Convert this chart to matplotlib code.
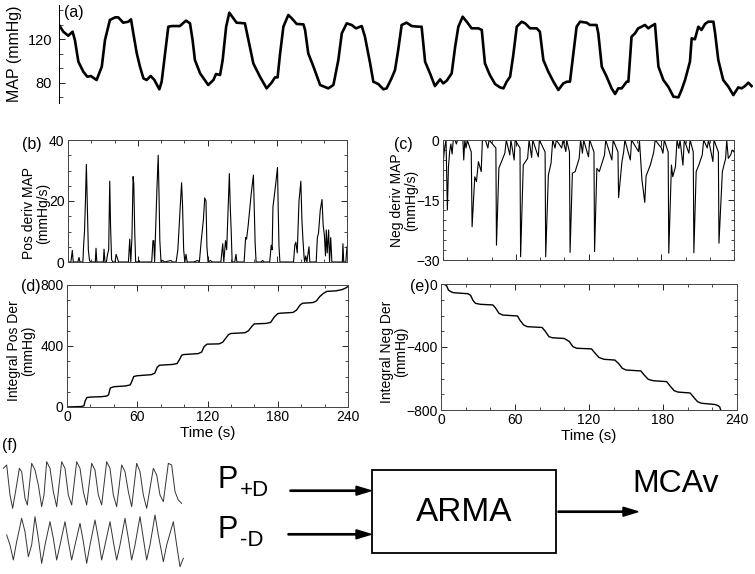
import matplotlib as mpl
import matplotlib.pyplot as plt
from matplotlib.ticker import MultipleLocator
from matplotlib.patches import Rectangle, FancyArrow

mpl.rcParams['font.family'] = ['Liberation Sans', 'DejaVu Sans']
mpl.rcParams['font.size'] = 10

W, H = 755, 574

# ---- (a) mean arterial pressure, time (s) / mmHg ----
map_t = [0, 1.5, 3.2, 4.7, 5.5, 6.7, 8.4, 9.8, 11.0, 13.0, 14.8, 15.9, 17.6, 19.4, 20.5,
         22.2, 24.0, 24.9, 25.7, 26.9, 28.0, 29.2, 30.3, 31.7, 33.0, 34.7, 35.5, 36.7,
         37.8, 39.0, 41.8, 43.9, 45.3, 46.2, 47.0, 48.8, 51.6, 53.4, 54.3, 55.7, 56.6,
         57.8, 58.9, 60.3, 61.4, 64.3, 65.5, 67.2, 69.5, 71.8, 73.5, 74.7, 75.6, 76.4,
         77.6, 79.3, 80.5, 82.2, 84.5, 85.1, 86.2, 88.0, 90.3, 93.1, 94.9, 96.6, 97.8,
         99.5, 101.2, 102.7, 104.7, 105.8, 107.6, 108.7, 110.4, 112.2, 113.3, 115.0,
         116.2, 117.3, 118.5, 120.2, 122.0, 124.3, 125.4, 126.6, 128.3, 130.0, 131.8,
         132.9, 134.1, 135.8, 137.0, 138.1, 139.6, 141.0, 142.7, 145.0, 146.2, 147.3,
         149.0, 150.8, 152.5, 153.7, 154.8, 156.0, 157.1, 158.3, 160.0, 161.2, 162.9,
         165.2, 166.3, 167.5, 169.2, 171.0, 172.7, 174.4, 175.6, 176.7, 177.9, 179.0,
         180.2, 182.5, 183.6, 185.9, 186.5, 187.7, 189.4, 191.1, 192.3, 193.4, 194.6,
         196.3, 196.9, 198.0, 199.2, 200.3, 201.5, 202.6, 203.8, 204.9, 206.1, 207.3,
         209.0, 210.7, 212.5, 214.2, 215.3, 216.5, 218.2, 218.8, 219.9, 221.1, 222.2,
         223.4, 224.5, 226.3, 226.9, 228.0, 229.7, 231.5, 233.2, 234.9, 236.1, 237.2,
         238.4, 239.5]
map_v = [133.2, 127.0, 123.3, 127.0, 119.3, 99.4, 90.2, 85.5, 86.2, 82.5, 94.8, 119.3,
         137.8, 140.2, 140.2, 135.3, 136.2, 138.4, 125.5, 107.0, 94.8, 84.0, 82.5, 86.2,
         82.5, 73.9, 80.9, 107.0, 131.6, 132.2, 132.2, 137.2, 134.7, 119.3, 100.9, 88.6,
         77.9, 82.5, 88.0, 87.1, 100.9, 131.6, 144.5, 139.3, 135.3, 134.7, 119.3, 97.8,
         85.5, 74.8, 80.0, 84.9, 84.9, 105.5, 131.6, 142.4, 139.3, 134.1, 133.8, 128.6,
         107.0, 94.8, 77.9, 74.8, 77.9, 100.9, 125.5, 134.7, 133.2, 130.1, 132.2, 122.4,
         97.8, 80.9, 78.8, 73.9, 74.8, 84.0, 91.7, 110.1, 133.2, 135.3, 132.2, 131.6,
         131.6, 99.4, 88.6, 76.9, 83.1, 79.4, 81.9, 88.6, 113.2, 131.6, 140.8, 136.2,
         130.1, 130.1, 128.6, 97.8, 87.1, 78.8, 75.7, 74.8, 80.9, 85.5, 105.5, 131.6,
         136.2, 134.7, 130.1, 130.1, 127.0, 100.9, 90.2, 80.9, 73.3, 79.4, 80.9, 80.9,
         107.0, 131.6, 136.2, 135.3, 133.2, 133.2, 125.5, 94.8, 85.5, 74.8, 69.6, 74.8,
         74.8, 80.9, 80.9, 122.4, 125.5, 130.1, 131.6, 133.2, 130.1, 132.2, 134.1, 94.8,
         82.5, 76.3, 67.1, 66.5, 73.3, 82.5, 99.4, 120.9, 120.0, 131.6, 128.6, 134.1,
         136.2, 136.2, 125.5, 100.9, 82.5, 76.3, 68.6, 75.7, 74.8, 76.9, 80.0, 76.9]

# ---- (b) positive derivative of MAP, mmHg/s ----
pos_t = [0, 2.5, 3.7, 4.5, 8.5, 9.5, 10.3, 12.8, 13.5, 14.2, 15.0, 15.8, 16.5, 17.5, 18.5,
         19.5, 23.5, 24.1, 24.8, 30.4, 31.0, 31.8, 33.0, 34.0, 35.0, 35.9, 36.6, 37.5,
         38.5, 40.5, 41.4, 42.3, 43.5, 52.0, 53.1, 54.0, 55.0, 56.0, 56.6, 57.4, 58.2,
         60.0, 61.0, 62.0, 72.0, 73.1, 73.8, 74.5, 76.5, 77.6, 78.3, 79.0, 80.0, 81.5,
         83.0, 88.5, 90.0, 93.0, 94.5, 96.5, 97.7, 98.5, 99.5, 100.5, 101.5, 102.5,
         108.0, 111.7, 113.0, 114.5, 116.5, 117.6, 118.7, 119.5, 120.5, 122.5, 124.0,
         131.5, 133.1, 134.0, 135.5, 136.5, 138.8, 139.5, 140.4, 141.2, 143.4, 144.5,
         145.3, 151.5, 152.8, 153.6, 155.0, 157.5, 159.5, 160.2, 161.0, 161.8, 166.0,
         167.5, 168.5, 173.5, 174.8, 175.6, 176.3, 178.5, 180.2, 180.8, 181.5, 182.3,
         194.0, 195.1, 196.0, 197.2, 198.7, 200.3, 201.2, 202.0, 203.0, 203.5, 204.5,
         205.5, 207.3, 208.0, 213.5, 214.5, 215.5, 217.0, 218.5, 219.5, 220.5, 221.5,
         222.2, 223.0, 224.2, 225.0, 226.0, 227.0, 231.5, 236.0, 236.5, 237.2, 239.0, 240.0]
pos_v = [0, 0, 3.8, 0, 0, 1.5, 0, 0, 6, 10, 20, 32, 20, 4, 0.5,
         0, 0, 4.5, 0, 0, 4.2, 0, 0, 2.5, 4, 26.5, 12, 0.8,
         0, 0, 2.5, 1.5, 0, 0, 7.5, 0, 8, 28, 25.5, 10, 0,
         0, 0.5, 0, 0, 7, 7, 0, 24, 35, 22, 7, 0, 0.5,
         0, 0.5, 0, 0, 4, 18, 26, 19, 4, 0, 2.5, 0,
         0, 0.5, 0, 6.5, 14, 21, 20, 5, 0, 0.5, 0,
         0, 6, 0, 7, 4, 29, 19, 10, 0, 0, 2.5,
         0, 0, 8, 7.5, 12, 22, 28.5, 18, 6, 0, 0,
         0.5, 0, 0, 5.5, 4, 18, 25, 31, 18, 5, 0,
         0, 5.5, 6.5, 3, 20, 26.5, 14, 8, 2, 0, 2,
         0, 5, 0, 0, 8, 9.5, 17, 20.5, 12, 9, 2,
         10.5, 3, 10.5, 0, 8, 0, 0, 0, 6, 0, 0, 5]

# ---- (c) negative derivative of MAP, mmHg/s ----
neg_t = [0, 1.3, 2.5, 3.6, 4.5, 5.5, 6.5, 7.5, 8.5, 10.0, 11.0, 12.0, 16.4, 17.1, 18.0,
         19.0, 20.0, 23.3, 24.0, 26.2, 27.6, 29.2, 31.5, 32.5, 35.0, 37.0, 38.0, 43.6,
         44.1, 46.1, 48.8, 51.0, 52.2, 55.1, 56.0, 58.7, 59.5, 63.5, 64.0, 66.2, 69.8,
         71.0, 73.1, 74.0, 78.6, 79.5, 84.2, 84.7, 86.9, 89.1, 90.5, 92.4, 93.5, 97.9,
         99.0, 101.3, 102.0, 104.3, 104.8, 106.7, 109.0, 112.3, 113.5, 115.0, 116.0,
         120.0, 121.0, 124.5, 125.0, 126.9, 128.9, 133.2, 134.2, 139.3, 140.3, 144.3,
         144.8, 147.6, 149.0, 150.0, 154.5, 155.5, 161.3, 162.0, 164.1, 166.4, 167.5,
         171.0, 173.8, 175.0, 180.1, 181.4, 182.5, 185.7, 186.2, 188.4, 189.5, 191.7,
         193.0, 194.5, 195.5, 197.9, 199.0, 202.8, 203.8, 206.4, 206.9, 208.8, 211.0,
         213.8, 215.0, 217.9, 219.0, 220.7, 222.6, 223.5, 227.1, 227.6, 230.4, 233.1,
         234.0, 235.3, 237.2, 238.5, 240.0]
neg_v = [-6.2, -2.0, 0, -17.5, -6.7, -2.9, -1, -3.5, 0, 0, -1, 0, 0, -5.0, 0,
         -2.0, 0, -3, -21.7, -9.2, -10.4, -5.4, -7.9, 0, 0, -2.0, 0, -2,
         -26.3, -7.0, -5.0, -3.3, 0, -3.75, 0, -5.0, 0, -2, -29.2, -6.25, -4.6,
         0, -4.4, 0, -4.2, 0, -3, -29.2, -8.75, -5.8, 0, -2.0, 0, -2.0,
         0, -2.9, 0, -3, -28.1, -8.3, -7.9, -4.6, 0, -3.3, 0,
         -4.2, 0, -3, -27.9, -7.1, -7.9, -3.75, 0, -5.0, 0, -3,
         -14.4, -5.4, -3, 0, -5.0, 0, -2.9, 0, -10.0, -15.6, -9,
         -6.25, -3, 0, -2.0, -3.3, 0, -3, -28.3, -6.25, -9.2, -6.7,
         0, -2.1, 0, -6.3, 0, -3.3, 0, -3, -28.2, -7.9, -6.25,
         -3.75, 0, -2.0, 0, -2.5, -5.4, 0, -3, -25.8, -7.9, -4.6,
         0, -4.6, -3.75, -2.5, -3]

# ---- (d) integral of positive derivative, mmHg ----
ipos_t = [0, 12, 14.5, 15.5, 17, 20, 30, 34, 35.5, 37, 40, 50, 54, 55.5, 57, 60, 72, 75,
          77, 79, 90, 94, 96, 98, 100, 112, 115, 117, 119.5, 130, 133, 135, 138, 140,
          152, 155, 158, 160, 170, 174, 177, 180, 182, 193, 196, 199, 201, 210, 213, 216,
          219, 222, 230, 235, 238, 240]
ipos_v = [0, 3, 8, 40, 62, 65, 68, 72, 80, 125, 133, 138, 145, 170, 200, 205, 212, 222,
          260, 274, 279, 285, 310, 340, 344, 350, 360, 395, 412, 414, 425, 445, 475, 482,
          487, 500, 530, 545, 548, 555, 590, 612, 615, 620, 635, 668, 680, 685, 695, 725,
          745, 758, 762, 770, 780, 790]

# ---- (e) integral of negative derivative, mmHg ----
ineg_t = [0, 3, 4.5, 6, 8, 10, 22, 24, 26, 28, 32, 42, 44, 47, 50, 62, 64, 67, 70, 82,
          84.5, 87.5, 90, 100, 104, 107, 110, 122, 125, 128, 132, 141, 144, 147, 150,
          162, 165, 168, 172, 183, 186, 189, 192, 202, 205, 208, 211, 222, 224, 226, 227.5]
ineg_v = [0, -3, -10, -38, -49, -55, -62, -72, -105, -123, -129, -133, -150, -186, -197,
          -203, -230, -260, -271, -276, -300, -334, -341, -346, -365, -398, -408, -412,
          -440, -466, -478, -483, -505, -535, -546, -552, -580, -605, -614, -620, -650,
          -677, -686, -692, -720, -747, -757, -765, -770, -780, -820]

# ---- (f) example input waveforms (arbitrary units) ----
wave1_t = [1.0, 2.0, 3.0, 3.8, 5.0, 5.8, 6.5, 7.5, 8.2, 9.5, 10.5, 11.5, 12.5, 13.2, 14.0,
           15.0, 16.0, 17.0, 18.5, 19.5, 20.5, 21.5, 23.0, 24.0, 25.0, 26.0, 27.5, 28.5,
           29.5, 30.5, 32.0, 33.0, 34.0, 35.0, 36.5, 37.5, 38.5, 39.5, 41.0, 42.0, 43.0,
           44.0, 46.0, 47.0, 48.0, 49.0, 50.5, 51.5, 52.5, 53.5, 54.5]
wave1_v = [65, 70, 25, 5, 40, 65, 60, 20, 10, 72.5, 62.5, 40, 7.5, 25, 75, 65, 30, 7.5,
           75, 65, 25, 10, 75, 65, 30, 10, 72.5, 62.5, 25, 10, 75, 65, 25, 7.5, 70, 60,
           30, 7.5, 72.5, 60, 25, 5, 65, 55, 25, 15, 72.5, 70, 30, 17.5, 12.5]
wave2_t = [2.0, 3.0, 4.0, 5.0, 6.5, 7.5, 8.5, 9.5, 10.5, 11.5, 12.5, 13.5, 15.0, 16.0,
           17.0, 18.0, 19.5, 20.5, 21.5, 22.5, 24.0, 25.0, 26.0, 27.0, 28.5, 29.5, 30.5,
           31.5, 33.0, 34.0, 35.0, 36.0, 37.5, 38.5, 39.5, 40.5, 42.0, 43.0, 44.0, 45.0,
           46.5, 47.5, 49.0, 50.0, 52.0, 53.0, 54.0, 55.0]
wave2_v = [65, 50, 27.5, 55, 90, 70, 32.5, 50, 92.5, 60, 22.5, 50, 85, 60, 27.5, 50, 85,
           55, 27.5, 50, 82.5, 55, 22.5, 50, 87.5, 60, 27.5, 50, 85, 55, 27.5, 50, 90,
           60, 27.5, 50, 92.5, 60, 27.5, 50, 95, 65, 25, 50, 85, 50, 17.5, 30]

time_ticks = [0, 60, 120, 180, 240]


def rect(l, t, r, b):
    # pixel box -> figure fraction
    return [l / W, 1 - b / H, (r - l) / W, (b - t) / H]


def fx(x):
    return x / W


def fy(y):
    return 1 - y / H


fig = plt.figure(figsize=(W / 100, H / 100), dpi=100)


def boxed(r, ylim, yticks, ylab, minor_y, xlabels):
    ax = fig.add_axes(rect(*r))
    ax.set_xlim(0, 240)
    ax.set_ylim(*ylim)
    ax.set_yticks(yticks)
    ax.yaxis.set_minor_locator(MultipleLocator(minor_y))
    ax.set_xticks(time_ticks)
    ax.xaxis.set_minor_locator(MultipleLocator(20))
    ax.tick_params(which='both', direction='in', top=True, right=True, labelsize=10, pad=2.5)
    ax.tick_params(which='major', length=4, width=0.6)
    ax.tick_params(which='minor', length=2.5, width=0.5)
    for s in ax.spines.values():
        s.set_linewidth(0.7)
        s.set_color('#444444')
    if xlabels:
        ax.set_xlabel('Time (s)', fontsize=11, labelpad=1)
    else:
        ax.set_xticklabels([])
    ax.set_ylabel(ylab, fontsize=10, linespacing=1.0)
    return ax


# (a)
axa = fig.add_axes(rect(59, 5, 753, 103))
axa.plot(map_t, map_v, color='black', lw=1.9)
axa.set_xlim(0, 240)
axa.set_ylim(61.3, 151.6)
for s in ['top', 'right', 'bottom']:
    axa.spines[s].set_visible(False)
axa.spines['left'].set_linewidth(0.7)
axa.set_xticks([])
axa.set_yticks([80, 120])
axa.yaxis.set_minor_locator(MultipleLocator(40 / 3))
axa.tick_params(which='both', direction='in', labelsize=10.5, pad=5)
axa.tick_params(which='major', length=4, width=0.6)
axa.tick_params(which='minor', length=3, width=0.5)
axa.set_ylabel('MAP (mmHg)', fontsize=11.5)
axa.yaxis.set_label_coords(-37 / 694, 0.5)

# (b)
axb = boxed((68, 140, 347, 262), (0, 40), [0, 20, 40],
            'Pos deriv MAP\n(mmHg/s)', 5, False)
axb.plot(pos_t, pos_v, color='black', lw=0.8)
axb.yaxis.set_label_coords(-18 / 279, 0.40)

# (c)
axc = boxed((443, 140, 734, 260), (-30, 0), [-30, -15, 0],
            'Neg deriv MAP\n(mmHg/s)', 2.5, False)
axc.plot(neg_t, neg_v, color='black', lw=0.8)
axc.yaxis.set_label_coords(-25 / 291, 0.5)

# (d)
axd = boxed((67, 285, 348, 407), (0, 800), [0, 400, 800],
            'Integral Pos Der\n(mmHg)', 100, True)
axd.plot(ipos_t, ipos_v, color='black', lw=1.0)
axd.yaxis.set_label_coords(-32 / 281, 0.46)

# (e)
axe = boxed((441, 284, 737, 410), (-800, 0), [-800, -400, 0],
            'Integral Neg Der\n(mmHg)', 100, True)
axe.plot(ineg_t, ineg_v, color='black', lw=1.0)
axe.yaxis.set_label_coords(-33 / 296, 0.46)

# panel letters
for lab, x, y in [('(a)', 64, 17), ('(b)', 22, 149), ('(c)', 394, 149),
                  ('(d)', 21, 291), ('(e)', 410, 291), ('(f)', 2, 450)]:
    fig.text(fx(x), fy(y), lab, fontsize=11.5, ha='left', va='baseline')

# (f) small waveforms
axw1 = fig.add_axes(rect(0, 455, 185, 515))
axw1.plot(wave1_t, wave1_v, color='#333333', lw=0.7)
axw1.set_xlim(0, 55.5)
axw1.set_ylim(-5, 85)
axw1.axis('off')

axw2 = fig.add_axes(rect(0, 514, 185, 574))
axw2.plot(wave2_t, wave2_v, color='#333333', lw=0.7)
axw2.set_xlim(0, 55.5)
axw2.set_ylim(6.5, 96.5)
axw2.axis('off')

# block diagram
fig.text(fx(218), fy(488.5), 'P', fontsize=22, va='baseline', ha='left')
fig.text(fx(240), fy(496), '+D', fontsize=16, va='baseline', ha='left')
fig.text(fx(218), fy(538.5), 'P', fontsize=22, va='baseline', ha='left')
fig.text(fx(240), fy(546), '-D', fontsize=16, va='baseline', ha='left')

fig.patches.append(Rectangle((fx(372), fy(552.5)), fx(556) - fx(372), fy(470) - fy(552.5),
                             transform=fig.transFigure, fill=False, lw=1.3, ec='black'))
fig.text(fx(464), fy(521), 'ARMA', fontsize=24, ha='center', va='baseline')
fig.text(fx(632), fy(491.5), 'MCAv', fontsize=23, ha='left', va='baseline')

for x0, x1, y in [(290, 371, 490.7), (288, 371, 534.3), (558, 638, 511.7)]:
    fig.patches.append(FancyArrow(fx(x0), fy(y), fx(x1) - fx(x0), 0, width=1.3 / H,
                                  head_width=9 / H, head_length=15 / W,
                                  length_includes_head=True, color='black',
                                  transform=fig.transFigure))

fig.savefig('out.png', dpi=100)
